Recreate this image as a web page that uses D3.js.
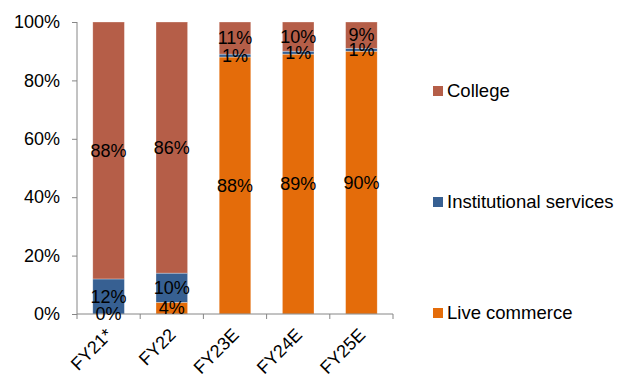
<!DOCTYPE html>
<html>
<head>
<meta charset="utf-8">
<script src="https://cdn.jsdelivr.net/npm/d3@7"></script>
<style>
  body { margin: 0; background: #fff; }
  text { font-family: "Liberation Sans", Arial, sans-serif; }
</style>
</head>
<body>
<div id="chart"></div>
<script>
// data
var years = ['FY21*', 'FY22', 'FY23E', 'FY24E', 'FY25E'];
var liveCommerce = [0, 4, 88, 89, 90];
var institutional = [12, 10, 1, 1, 1];
var college = [88, 86, 11, 10, 9];
var yTicks = [0, 20, 40, 60, 80, 100];

var seriesNames = ['Live commerce', 'Institutional services', 'College'];
var seriesColors = ['#E46C0A', '#376092', '#B55E48'];

var margin = { top: 22, right: 224, bottom: 66, left: 77 },
    width = 617 - margin.left - margin.right,
    height = 380 - margin.top - margin.bottom;

var svg = d3.select('#chart')
  .append('svg')
    .attr('width', 617)
    .attr('height', 380)
  .append('g')
    .attr('transform', 'translate(' + margin.left + ',' + margin.top + ')');

var rows = years.map(function(y, i) {
  return { year: y, live: liveCommerce[i], inst: institutional[i], college: college[i] };
});
var keys = ['live', 'inst', 'college'];
var stacked = d3.stack().keys(keys)(rows);

var x = d3.scaleBand()
  .domain(years)
  .range([0, width])
  .paddingInner(0.5)
  .paddingOuter(0.25);

var y = d3.scaleLinear()
  .domain([0, 100])
  .range([height, 0]);

// bars
svg.append('g')
  .selectAll('g')
  .data(stacked)
  .enter()
  .append('g')
    .attr('fill', function(d, i) { return seriesColors[i]; })
  .selectAll('rect')
  .data(function(d) { return d; })
  .enter()
  .append('rect')
    .attr('x', function(d) { return x(d.data.year); })
    .attr('y', function(d) { return y(d[1]); })
    .attr('width', x.bandwidth())
    .attr('height', function(d) { return y(d[0]) - y(d[1]); })
    .attr('stroke', 'rgba(255,255,255,0.5)')
    .attr('stroke-width', 0.6);

// y axis
var yAxis = svg.append('g')
  .call(d3.axisLeft(y).tickValues(yTicks).tickFormat(function(d) { return d + '%'; }).tickSize(5).tickPadding(12));
yAxis.selectAll('text').attr('font-size', '18px').attr('fill', '#000').attr('font-family', '"Liberation Sans", Arial, sans-serif');
yAxis.selectAll('line, path').attr('stroke', '#868686');
yAxis.select('path').attr('d', 'M0,' + height + 'V0');

// x axis with ticks between categories
var xg = svg.append('g').attr('transform', 'translate(0,' + height + ')');
xg.append('line')
  .attr('x1', 0).attr('x2', width)
  .attr('stroke', '#868686');
xg.selectAll('.tk')
  .data(d3.range(years.length + 1))
  .enter()
  .append('line')
    .attr('x1', function(i) { return i * width / years.length; })
    .attr('x2', function(i) { return i * width / years.length; })
    .attr('y1', 0).attr('y2', 5)
    .attr('stroke', '#868686');
xg.selectAll('.lbl')
  .data(years)
  .enter()
  .append('text')
    .attr('text-anchor', 'end')
    .attr('font-size', '18px')
    .attr('fill', '#000')
    .attr('transform', function(d) {
      return 'translate(' + (x(d) + x.bandwidth() / 2 + 5) + ',22) rotate(-45)';
    })
    .text(function(d) { return d; });

// data labels
stacked.forEach(function(s) {
  svg.append('g')
    .selectAll('text')
    .data(s)
    .enter()
    .append('text')
      .attr('x', function(d) { return x(d.data.year) + x.bandwidth() / 2; })
      .attr('y', function(d) { return (y(d[0]) + y(d[1])) / 2; })
      .attr('dy', '0.35em')
      .attr('text-anchor', 'middle')
      .attr('font-size', '18px')
      .attr('fill', '#000')
      .text(function(d) { return (d[1] - d[0]) + '%'; });
});

// legend
var legendY = [313, 202, 91];
var legend = svg.append('g')
  .attr('transform', 'translate(' + (433 - margin.left) + ',' + (-margin.top) + ')');
seriesNames.forEach(function(name, i) {
  legend.append('rect')
    .attr('x', 0)
    .attr('y', legendY[i] - 5)
    .attr('width', 10)
    .attr('height', 10)
    .attr('fill', seriesColors[i]);
  legend.append('text')
    .attr('x', 14)
    .attr('y', legendY[i])
    .attr('dy', '0.35em')
    .attr('font-size', '18.5px')
    .attr('fill', '#000')
    .text(name);
});
</script>
</body>
</html>
